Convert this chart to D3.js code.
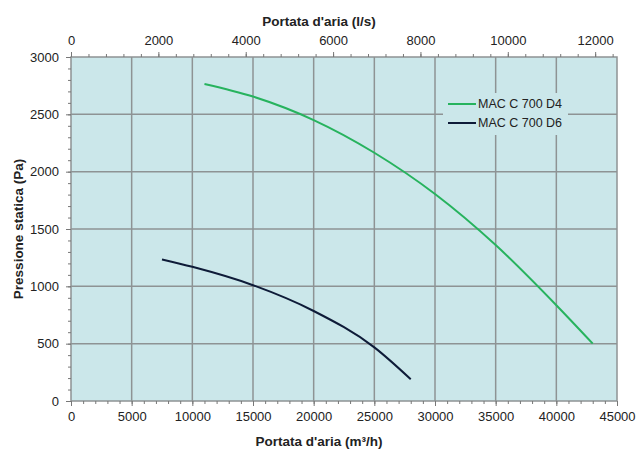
<!DOCTYPE html>
<html><head><meta charset="utf-8">
<script src="https://cdn.jsdelivr.net/npm/d3@7"></script>
<style>body{margin:0;background:#fff}text{font-family:"Liberation Sans",Arial,sans-serif}</style>
</head><body><svg id="c" width="636" height="450"></svg>
<script>
const seriesNames = ["MAC C 700 D4", "MAC C 700 D6"];
const seriesColors = ["#27b35e", "#0e1b38"];
const d4Flow = [11000, 15000, 20000, 25000, 30000, 35000, 40000, 43000];
const d4Press = [2765, 2655, 2450, 2165, 1805, 1360, 835, 500];
const d6Flow = [7500, 10000, 15000, 20000, 25000, 28000];
const d6Press = [1235, 1170, 1010, 785, 468, 190];
const bottomTicks = [0, 5000, 10000, 15000, 20000, 25000, 30000, 35000, 40000, 45000];
const topTicks = [0, 2000, 4000, 6000, 8000, 10000, 12000];
const yTicks = [0, 500, 1000, 1500, 2000, 2500, 3000];

const svg = d3.select("#c");
const L = 71, R = 617, T = 57, B = 401;
const x = d3.scaleLinear().domain([0, 45000]).range([L, R]);
const xt = d3.scaleLinear().domain([0, 12500]).range([L, R]);
const y = d3.scaleLinear().domain([0, 3000]).range([B, T]);

svg.append("rect").attr("x", L).attr("y", T).attr("width", R - L).attr("height", B - T).attr("fill", "#cbe7ea");

const grid = svg.append("g").attr("stroke", "#8e9394").attr("stroke-width", 1.5);
bottomTicks.slice(1, -1).forEach(v => grid.append("line").attr("x1", x(v)).attr("x2", x(v)).attr("y1", T).attr("y2", B));
yTicks.slice(1, -1).forEach(v => grid.append("line").attr("x1", L).attr("x2", R).attr("y1", y(v)).attr("y2", y(v)));

// legend box (covers grid)
const lg = svg.append("g");
lg.append("rect").attr("x", 443).attr("y", 93).attr("width", 125).attr("height", 42).attr("fill", "#cbe7ea");

svg.append("rect").attr("x", L).attr("y", T).attr("width", R - L).attr("height", B - T).attr("fill", "none").attr("stroke", "#8e9394").attr("stroke-width", 1.5);

function styleAxis(g) {
  g.select(".domain").remove();
  g.selectAll("line").attr("stroke", "#777");
  g.selectAll("text").attr("font-size", 13).attr("fill", "#222").attr("font-family", "Liberation Sans, Arial, sans-serif");
}
// minor ticks
svg.append("g").attr("transform", `translate(0,${B})`)
  .call(d3.axisBottom(x).tickValues(d3.range(0, 45001, 1000)).tickSize(3).tickFormat(""))
  .call(styleAxis);
svg.append("g").attr("transform", `translate(0,${B})`)
  .call(d3.axisBottom(x).tickValues(bottomTicks).tickSize(5).tickPadding(6).tickFormat(d3.format("d")))
  .call(styleAxis);
svg.append("g").attr("transform", `translate(0,${T})`)
  .call(d3.axisTop(xt).tickValues(d3.range(0, 12401, 400)).tickSize(3).tickFormat(""))
  .call(styleAxis);
svg.append("g").attr("transform", `translate(0,${T})`)
  .call(d3.axisTop(xt).tickValues(topTicks).tickSize(5).tickPadding(7).tickFormat(d3.format("d")))
  .call(styleAxis);
svg.append("g").attr("transform", `translate(${L},0)`)
  .call(d3.axisLeft(y).tickValues(d3.range(0, 3001, 100)).tickSize(3).tickFormat(""))
  .call(styleAxis);
svg.append("g").attr("transform", `translate(${L},0)`)
  .call(d3.axisLeft(y).tickValues(yTicks).tickSize(5).tickPadding(7).tickFormat(d3.format("d")))
  .call(styleAxis);

const line = d3.line().x(d => x(d[0])).y(d => y(d[1])).curve(d3.curveMonotoneX);
const series = [d3.zip(d4Flow, d4Press), d3.zip(d6Flow, d6Press)];
series.forEach((s, i) => {
  svg.append("path").datum(s).attr("d", line).attr("fill", "none")
    .attr("stroke", seriesColors[i]).attr("stroke-width", 2);
});

seriesNames.forEach((n, i) => {
  const yy = 104 + i * 19;
  lg.append("line").attr("x1", 448).attr("x2", 476).attr("y1", yy).attr("y2", yy).attr("stroke", seriesColors[i]).attr("stroke-width", 2);
  lg.append("text").attr("x", 478).attr("y", yy).attr("dy", "0.35em").attr("font-size", 12.5).attr("fill", "#222").text(n);
});

svg.append("text").attr("x", 319).attr("y", 26).attr("text-anchor", "middle").attr("font-size", 13.5).attr("font-weight", "bold").attr("fill", "#222").text("Portata d'aria (l/s)");
svg.append("text").attr("x", 319).attr("y", 446).attr("text-anchor", "middle").attr("font-size", 13.5).attr("font-weight", "bold").attr("fill", "#222").text("Portata d'aria (m³/h)");
svg.append("text").attr("transform", `translate(23,${(T + B) / 2}) rotate(-90)`).attr("text-anchor", "middle").attr("font-size", 13.5).attr("font-weight", "bold").attr("fill", "#222").text("Pressione statica (Pa)");
</script></body></html>
